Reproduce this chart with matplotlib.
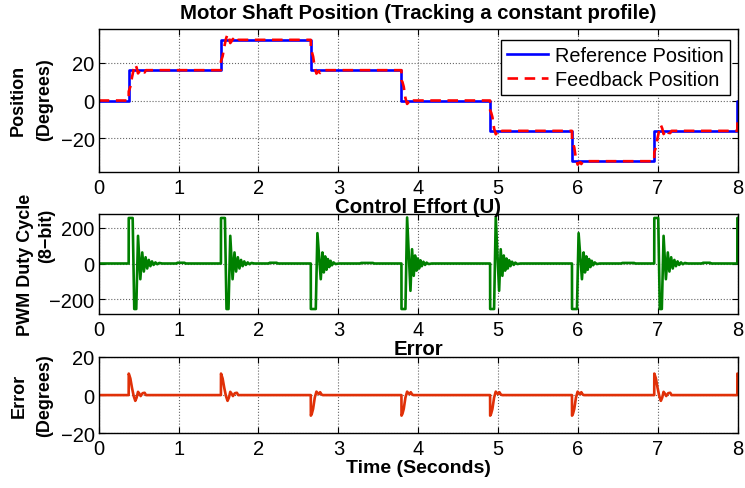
import matplotlib
matplotlib.use("Agg")
import matplotlib.pyplot as plt

plt.rcParams["font.family"] = ["Liberation Sans", "DejaVu Sans"]

# reference set-points (degrees) and the times they change (s)
step_times = [0.375, 1.53, 2.655, 3.79, 4.90, 5.925, 6.955, 7.995]
ref_levels = [0, 16, 32, 16, 0, -16, -32, -16, 0]

# error transient after a rising / falling set-point change
err_up_dt = [0, 0.001, 0.021, 0.042, 0.063, 0.083, 0.100, 0.117, 0.133, 0.150, 0.175, 0.200, 0.217]
err_up_val = [0, 11.2, 8.7, 3.7, -0.5, -3.0, -1.3, 1.7, 0.8, -0.5, 1.0, 1.2, 0]
err_down_dt = [0, 0.001, 0.013, 0.029, 0.050, 0.071, 0.092, 0.104, 0.117, 0.133, 0.150]
err_down_val = [0, -10.7, -9.7, -7.2, -1.3, 1.8, 0.8, 0.5, 1.5, 0.4, 0]

# PWM duty transients (8-bit, saturates at +/-255)
u_up_dt = [0, 0.001, 0.050, 0.070, 0.095, 0.117, 0.146, 0.170, 0.190, 0.212, 0.232,
           0.252, 0.272, 0.292, 0.312, 0.335, 0.358, 0.383, 0.42, 0.60, 0.61, 0.70, 0.71]
u_up_val = [0, 255, 255, -255, -255, 155, -88, 62, -45, 35, -28,
            20, -15, 12, -8, 6, -4, 3, 0, 0, 4, 4, 0]
u_down_a_dt = [0, 0.001, 0.0625, 0.083, 0.125, 0.146, 0.163, 0.180, 0.197, 0.214,
               0.231, 0.248, 0.265, 0.285, 0.31, 0.35, 0.62, 0.63, 0.78, 0.79]
u_down_a_val = [0, -255, -255, 170, -88, 62, -50, 40, -35, 25,
                -20, 15, -10, 6, -3, 0, 0, 3, 3, 0]
u_down_b_dt = [0, 0.001, 0.050, 0.071, 0.113, 0.133, 0.154, 0.171, 0.188, 0.205,
               0.221, 0.238, 0.255, 0.275, 0.296, 0.315, 0.34, 0.38]
u_down_b_val = [0, -255, -255, 258, -153, 80, -69, 45, -40, 28,
                -28, 18, -15, 10, -8, 5, -3, 0]
u_shape = ["up", "up", "down_a", "down_b", "down_b", "down_a", "up", "up"]

u_templates = {
    "up": (u_up_dt, u_up_val),
    "down_a": (u_down_a_dt, u_down_a_val),
    "down_b": (u_down_b_dt, u_down_b_val),
}


def build_error():
    t, e = [0.0], [0.0]
    fb_t, fb = [0.0], [0.0]
    for k, ts in enumerate(step_times):
        old, new = ref_levels[k], ref_levels[k + 1]
        dts, vals = (err_up_dt, err_up_val) if new > old else (err_down_dt, err_down_val)
        for d, v in zip(dts, vals):
            t.append(ts + d)
            e.append(v)
            fb_t.append(ts + d)
            fb.append((old if d == 0 else new) - v)
    t.append(8.5)
    e.append(e[-1])
    fb_t.append(8.5)
    fb.append(fb[-1])
    return t, e, fb_t, fb


def build_effort():
    t, u = [0.0], [0.0]
    for ts, kind in zip(step_times, u_shape):
        dts, vals = u_templates[kind]
        for d, v in zip(dts, vals):
            t.append(ts + d)
            u.append(v)
    return t, u


err_t, err, fb_t, fb = build_error()
u_t, u = build_effort()
ref_t = [0.0] + step_times + [8.0]
ref_y = ref_levels + [ref_levels[-1]]

fig = plt.figure(figsize=(7.45, 4.89), dpi=100)
ax1 = fig.add_axes([0.1325, 0.6462, 0.8577, 0.2924])
ax2 = fig.add_axes([0.1325, 0.3558, 0.8577, 0.2055])
ax3 = fig.add_axes([0.1325, 0.1115, 0.8577, 0.1570])

tick_fs = 14.5
title_fs = 14.7
label_fs = 13

for ax in (ax1, ax2, ax3):
    ax.set_xlim(0, 8)
    ax.set_xticks(range(9))
    ax.grid(True, linestyle=":", color="0.4", linewidth=0.8)
    ax.tick_params(direction="in", top=True, right=True, length=4, width=0.8,
                   labelsize=tick_fs, pad=3)
    ax.tick_params(axis="x", pad=4)
    for s in ax.spines.values():
        s.set_linewidth(1.0)

ax1.plot(ref_t, ref_y, drawstyle="steps-post", color="#0000ff", lw=1.9,
         label="Reference Position")
ax1.plot(fb_t, fb, color="#ff0000", lw=1.9, linestyle=(0, (4, 2.5)),
         label="Feedback Position")
ax1.set_ylim(-37.7, 37.7)
ax1.set_yticks([-20, 0, 20])
ax1.set_title("Motor Shaft Position (Tracking a constant profile)",
              fontsize=title_fs, fontweight="bold", pad=8)
leg = ax1.legend(loc="upper right", bbox_to_anchor=(0.988, 0.925), borderaxespad=0,
                 fontsize=14.3, fancybox=False, framealpha=1, edgecolor="black",
                 handlelength=2.1, handletextpad=0.35, borderpad=0.3, labelspacing=0.25)
leg.get_frame().set_linewidth(1.0)

ax2.plot(u_t, u, color="#008000", lw=1.9)
ax2.set_ylim(-283, 280)
ax2.set_yticks([-200, 0, 200])
ax2.set_title("Control Effort (U)", fontsize=title_fs, fontweight="bold", pad=1.3)

ax3.plot(err_t, err, color="#e03008", lw=1.9)
ax3.set_ylim(-20, 20)
ax3.set_yticks([-20, 0, 20])
ax3.set_title("Error", fontsize=title_fs, fontweight="bold", pad=2)
ax3.set_xlabel("Time (Seconds)", fontsize=14, fontweight="bold", labelpad=1)

# two-line y labels, placed line by line
H = 489.0
W = 745.0
ylabel_lines = [
    ("Position", 18, 100),
    ("(Degrees)", 45, 100),
    ("PWM Duty Cycle", 26, 265),
    ("(8\u2212bit)", 47, 236),
    ("Error", 19, 396),
    ("(Degrees)", 45, 396),
]
for txt, x, y in ylabel_lines:
    fig.text(x / W, 1 - y / H, txt, rotation=90, ha="center", va="center",
             fontsize=label_fs, fontweight="bold")

fig.savefig("out.png", dpi=100)
